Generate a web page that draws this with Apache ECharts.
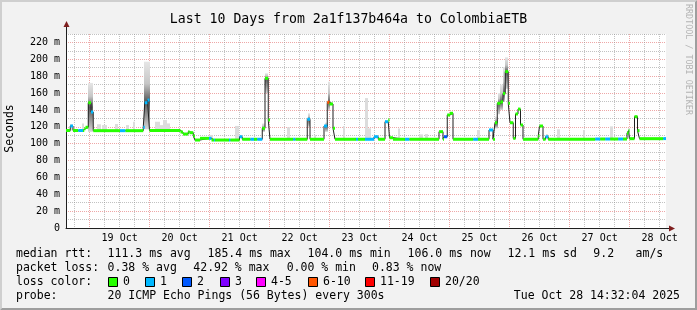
<!DOCTYPE html>
<html><head><meta charset="utf-8">
<script src="https://cdn.jsdelivr.net/npm/echarts@6/dist/echarts.min.js"></script>
<style>html,body{margin:0;padding:0;background:#f2f2f2;overflow:hidden}#c{width:697px;height:310px}</style>
</head><body><div id="c"></div>
<script>
// ---- data (hours from start of window = Oct 18 14:32:04) ----
const startClock = [14, 32, 4];
const spanHours = 240;
const dayLabels = ['19 Oct','20 Oct','21 Oct','22 Oct','23 Oct','24 Oct','25 Oct','26 Oct','27 Oct','28 Oct'];
const yTickValues = [0,20,40,60,80,100,120,140,160,180,200,220];
const yTickLabels = ['0','20 m','40 m','60 m','80 m','100 m','120 m','140 m','160 m','180 m','200 m','220 m'];

// median rtt (ms) as steps: segment i starts at medStart[i], lasts until next start
const medStart = [0,1.7,2.8,4.9,6.8,7.3,7.8,8.9,10.0,10.9,
  21.6,23.8,30.9,31.5,32.6,33.4,45.8,46.8,48.9,49.4,
  50.9,51.6,53.6,57.2,58.2,59.2,59.6,65.2,65.8,69.4,
  70.5,73.8,75.2,76.5,78.5,79.6,80.9,81.6,90.9,91.8,
  96.5,97.6,103.2,104.5,105.4,106.8,107.6,116.0,116.8,119.6,
  123.2,124.9,127.6,128.9,129.4,130.8,135.6,137.4,149.2,150.8,
  151.2,152.5,153.6,154.8,162.9,164.8,169.2,170.8,171.6,172.5,
  173.8,174.8,175.7,176.9,177.6,178.9,179.8,180.8,181.8,182.8,
  188.9,189.4,190.8,191.8,192.9,211.7,213.7,215.7,217.7,220.9,
  222.8,224.4,225.0,225.4,227.4,228.6,229.4,238.9];
const medValue = [115.6,120.9,115.6,115.6,115.6,117.7,119.4,148.5,137.5,115.4,
  115.4,115.4,119.4,148.5,151.7,115.6,113.8,111.4,114.2,113.0,
  109.1,104.3,106.3,106.3,104.3,104.3,104.3,104.3,104.3,108.2,
  105.2,105.2,105.2,105.2,118.2,177.5,128.0,105.2,105.2,105.2,
  128.9,105.2,120.9,149.0,147.0,118.2,105.2,105.2,105.2,105.2,
  108.2,105.2,126.0,128.0,107.0,105.2,105.2,105.2,114.2,105.2,
  108.2,134.0,136.0,105.2,105.2,105.2,116.2,105.2,124.8,147.8,
  149.5,159.5,185.4,147.8,124.8,106.3,135.2,141.0,122.1,105.2,
  109.1,120.9,105.2,108.2,105.2,105.5,105.5,105.5,105.5,105.5,
  105.5,112.3,115.4,105.9,132.0,115.4,105.9,106.0];
// loss class index per segment (0:0, 1:1, 2:2, 3:3, 4:4-5, 5:6-10, 6:11-19, 7:20/20)
const medLoss = [0,1,0,1,0,0,0,0,1,0,
  1,0,1,1,1,0,0,0,0,0,
  0,0,0,1,0,1,0,1,0,1,
  0,1,0,1,0,0,0,0,1,0,
  1,0,1,5,0,0,0,1,0,1,
  1,0,1,0,0,0,1,0,0,0,
  2,0,0,0,1,0,1,0,0,0,
  0,0,0,0,0,0,0,0,0,0,
  0,0,0,1,0,1,0,1,0,1,
  0,0,0,0,0,0,0,1];

// smoke (ping spread) blocks
const smokeStart = [1.7,6.5,8.6,12.5,14.5,19.6,23.8,26.9,31.0,35.7,37.7,38.9,40.5,57.2,67.7,78.5,79.6,88.5,96.6,99.2,103.7,104.8,110.6,119.6,120.6,132.6,141.2,143.6,164.4,171.6,172.6,173.7,174.8,175.7,191.8,196.4,206.8,217.7,224.8];
const smokeEnd   = [2.9,7.3,10.8,14.1,16.5,20.9,25.2,27.6,33.4,37.7,38.9,40.5,41.7,58.8,69.0,79.6,80.9,89.4,97.7,100.1,104.8,105.7,111.6,120.9,121.8,133.6,142.9,144.9,165.6,172.6,173.7,174.8,175.7,176.9,192.9,197.7,207.7,218.9,225.4];
const smokeLo    = [115.6,115.6,114,115.6,115.6,115.6,115.6,115.6,117,115.6,115.6,115.6,115.6,104.3,104.3,114,160,105.2,120,105.2,114,140,105.2,105.2,105.2,105.2,105.2,105.2,105.2,118,135,140,150,165,105.2,105.2,105.2,105.5,106];
const smokeHi    = [123,124,172,123,122,123.3,122,126,197.2,126,122,128,124,110.3,121,124,183.4,119.4,136,110.3,125,173.4,121,154,118.2,118,111,111.4,116.2,132,160,170,191,202.4,111.4,117,116.2,120.5,118.2];
const smokeMid   = [0,0,143,0,0,0,0,0,150,0,0,0,0,0,0,118,177.5,0,128.9,0,120.9,149,0,0,0,0,0,0,0,124.8,148,149.5,159.5,185.4,0,0,0,0,0];

const lossLabels = ['0','1','2','3','4-5','6-10','11-19','20/20'];
const lossColors = ['#26ff00','#00b8ff','#0059ff','#7e00ff','#ff00ff','#ff5500','#ff0000','#a10000'];

const rttLabel = 'median rtt:';
const rttStats = ['111.3 ms avg','185.4 ms max','104.0 ms min','106.0 ms now','12.1 ms sd','9.2','am/s'];
const lossLabel = 'packet loss:';
const lossStats = ['0.38 % avg','42.92 % max','0.00 % min','0.83 % now'];
const probeText = '20 ICMP Echo Pings (56 Bytes) every 300s';
const stampText = 'Tue Oct 28 14:32:04 2025';
const titleText = 'Last 10 Days from 2a1f137b464a to ColombiaETB';

// ---- layout / style ----
const FONT = '"DejaVu Sans Mono", monospace';
const GRID = 'rgba(143,143,143,0.55)';
const MGRID = 'rgba(222,79,79,0.5)';
const firstMidnight = 24 - (startClock[0] + startClock[1]/60 + startClock[2]/3600);
const gridHours = [];
for (let h = firstMidnight - 6; h < spanHours; h += 6) gridHours.push(h);
const noonHours = dayLabels.map((d, i) => firstMidnight + 12 + 24 * i);

const medSegs = medStart.map((t, i) => [t, i + 1 < medStart.length ? medStart[i + 1] : spanHours, medValue[i], medLoss[i]]);
const medLine = medStart.map((t, i) => [t, medValue[i]]);
medLine.push([spanHours, medValue[medValue.length - 1]]);
const smokeData = smokeStart.map((t, i) => [t, smokeEnd[i], smokeLo[i], smokeHi[i], smokeMid[i]]);

const chart = echarts.init(document.getElementById('c'), null, {renderer: 'canvas'});

function text(x, y, s, size, extra) {
  return Object.assign({type: 'text', x: x, y: y, silent: true,
    style: Object.assign({text: s, fill: '#000', font: size + 'px ' + FONT, textAlign: 'left', textVerticalAlign: 'middle'}, (extra && extra.style) || {})},
    extra && extra.rotation !== undefined ? {rotation: extra.rotation} : {});
}

const graphics = [
  {type: 'polygon', silent: true, shape: {points: [[0,0],[697,0],[695,2],[2,2],[2,308],[0,310]]}, style: {fill: '#cfcfcf'}},
  {type: 'polygon', silent: true, shape: {points: [[697,0],[697,310],[0,310],[2,308],[695,308],[695,2]]}, style: {fill: '#9e9e9e'}},
  {type: 'line', silent: true, shape: {x1: 666, y1: 228.5, x2: 671, y2: 228.5}, style: {stroke: '#1f1f1f', lineWidth: 1}},
  {type: 'polygon', silent: true, shape: {points: [[669,225.5],[675,228.5],[669,231.5]]}, style: {fill: '#7f1f1f'}},
  {type: 'line', silent: true, shape: {x1: 66.5, y1: 34, x2: 66.5, y2: 26}, style: {stroke: '#1f1f1f', lineWidth: 1}},
  {type: 'polygon', silent: true, shape: {points: [[63.5,27],[66.5,21],[69.5,27]]}, style: {fill: '#7f1f1f'}},
  text(348.5, 19.5, titleText, 13.2, {style: {textAlign: 'center'}}),
  text(10.5, 128.5, 'Seconds', 11.5, {rotation: Math.PI / 2, style: {textAlign: 'center'}}),
  text(688.5, 4, 'RRDTOOL / TOBI OETIKER', 8.4, {rotation: -Math.PI / 2, style: {fill: '#b4b4b4'}}),
  text(16, 254.5, rttLabel, 11.5),
  text(16, 268.5, lossLabel, 11.5),
  text(16, 282.5, 'loss color:', 11.5),
  text(16, 296.5, 'probe:', 11.5),
  text(107.6, 296.5, probeText, 11.5),
  text(680, 296.5, stampText, 11.5, {style: {textAlign: 'right'}})
];
const rttX = [107.6, 207.6, 307.6, 407.6, 507.6, 593.3, 635.6];
rttStats.forEach((s, i) => graphics.push(text(rttX[i], 254.5, s, 11.5)));
const lossX = [107.6, 193.3, 286.7, 372];
lossStats.forEach((s, i) => graphics.push(text(lossX[i], 268.5, s, 11.5)));
const boxX = [108, 145.3, 182.2, 219.6, 256.4, 307.6, 365.3, 429.8];
lossLabels.forEach((s, i) => {
  graphics.push({type: 'rect', silent: true, shape: {x: Math.round(boxX[i]) + 0.5, y: 277.5, width: 9, height: 9}, style: {fill: lossColors[i], stroke: '#000', lineWidth: 1}});
  graphics.push(text(Math.round(boxX[i]) + 15, 282.5, s, 11.5));
});

const option = {
  animation: false,
  backgroundColor: '#f2f2f2',
  grid: {left: 66, top: 34, width: 600, height: 194, show: true, backgroundColor: '#ffffff', borderWidth: 0},
  xAxis: {
    type: 'value', min: 0, max: spanHours,
    axisLine: {show: true, onZero: false, lineStyle: {color: '#1f1f1f', width: 1}},
    axisTick: {show: false, customValues: gridHours},
    axisLabel: {customValues: noonHours, formatter: v => dayLabels[Math.round((v - noonHours[0]) / 24)] || '',
      color: '#000', fontFamily: FONT, fontSize: 10, margin: 5},
    splitLine: {show: true, lineStyle: {color: [GRID, MGRID, GRID, GRID], type: [1, 1], width: 1}}
  },
  yAxis: {
    type: 'value', min: 0, max: 230, interval: 10,
    axisLine: {show: true, onZero: false, lineStyle: {color: '#1f1f1f', width: 1}},
    axisTick: {show: false},
    axisLabel: {formatter: v => { const k = yTickValues.indexOf(v); return k >= 0 ? yTickLabels[k] : ''; },
      color: '#000', fontFamily: FONT, fontSize: 10, margin: 6},
    splitLine: {show: true, lineStyle: {color: [MGRID, GRID], type: [1, 1], width: 1}}
  },
  series: [
    {
      type: 'custom', z: 1, silent: true,
      encode: {x: [0, 1], y: [2, 3]},
      data: smokeData,
      renderItem: function (params, api) {
        const t0 = api.value(0), t1 = api.value(1), lo = api.value(2), hi = api.value(3), mid = api.value(4);
        const p0 = api.coord([t0, hi]), p1 = api.coord([t1, lo]);
        const x = Math.round(p0[0]), w = Math.max(1, Math.round(p1[0]) - x);
        const y = p0[1], h = p1[1] - p0[1];
        let fill = '#dcdcdc';
        if (mid > 0) {
          const f = Math.min(0.98, Math.max(0.02, (hi - mid) / (hi - lo)));
          fill = new echarts.graphic.LinearGradient(0, 0, 0, 1, [
            {offset: 0, color: '#e6e6e6'},
            {offset: f * 0.55, color: '#c6c6c6'},
            {offset: f, color: '#5a5a5a'},
            {offset: f + (1 - f) * 0.5, color: '#959595'},
            {offset: 1, color: '#d6d6d6'}
          ]);
        }
        return {type: 'rect', shape: {x: x, y: y, width: w, height: h}, style: {fill: fill}};
      }
    },
    {
      type: 'line', z: 2, step: 'end', symbol: 'none', silent: true,
      data: medLine,
      lineStyle: {color: '#202020', width: 1}
    },
    {
      type: 'custom', z: 3, silent: true,
      encode: {x: [0, 1], y: 2},
      data: medSegs,
      renderItem: function (params, api) {
        const a = api.coord([api.value(0), api.value(2)]);
        const b = api.coord([api.value(1), api.value(2)]);
        return {type: 'line', shape: {x1: a[0], y1: a[1], x2: b[0], y2: b[1]},
          style: {stroke: lossColors[api.value(3)], lineWidth: 3}};
      }
    }
  ],
  graphic: graphics
};
chart.setOption(option);
</script>
</body></html>
